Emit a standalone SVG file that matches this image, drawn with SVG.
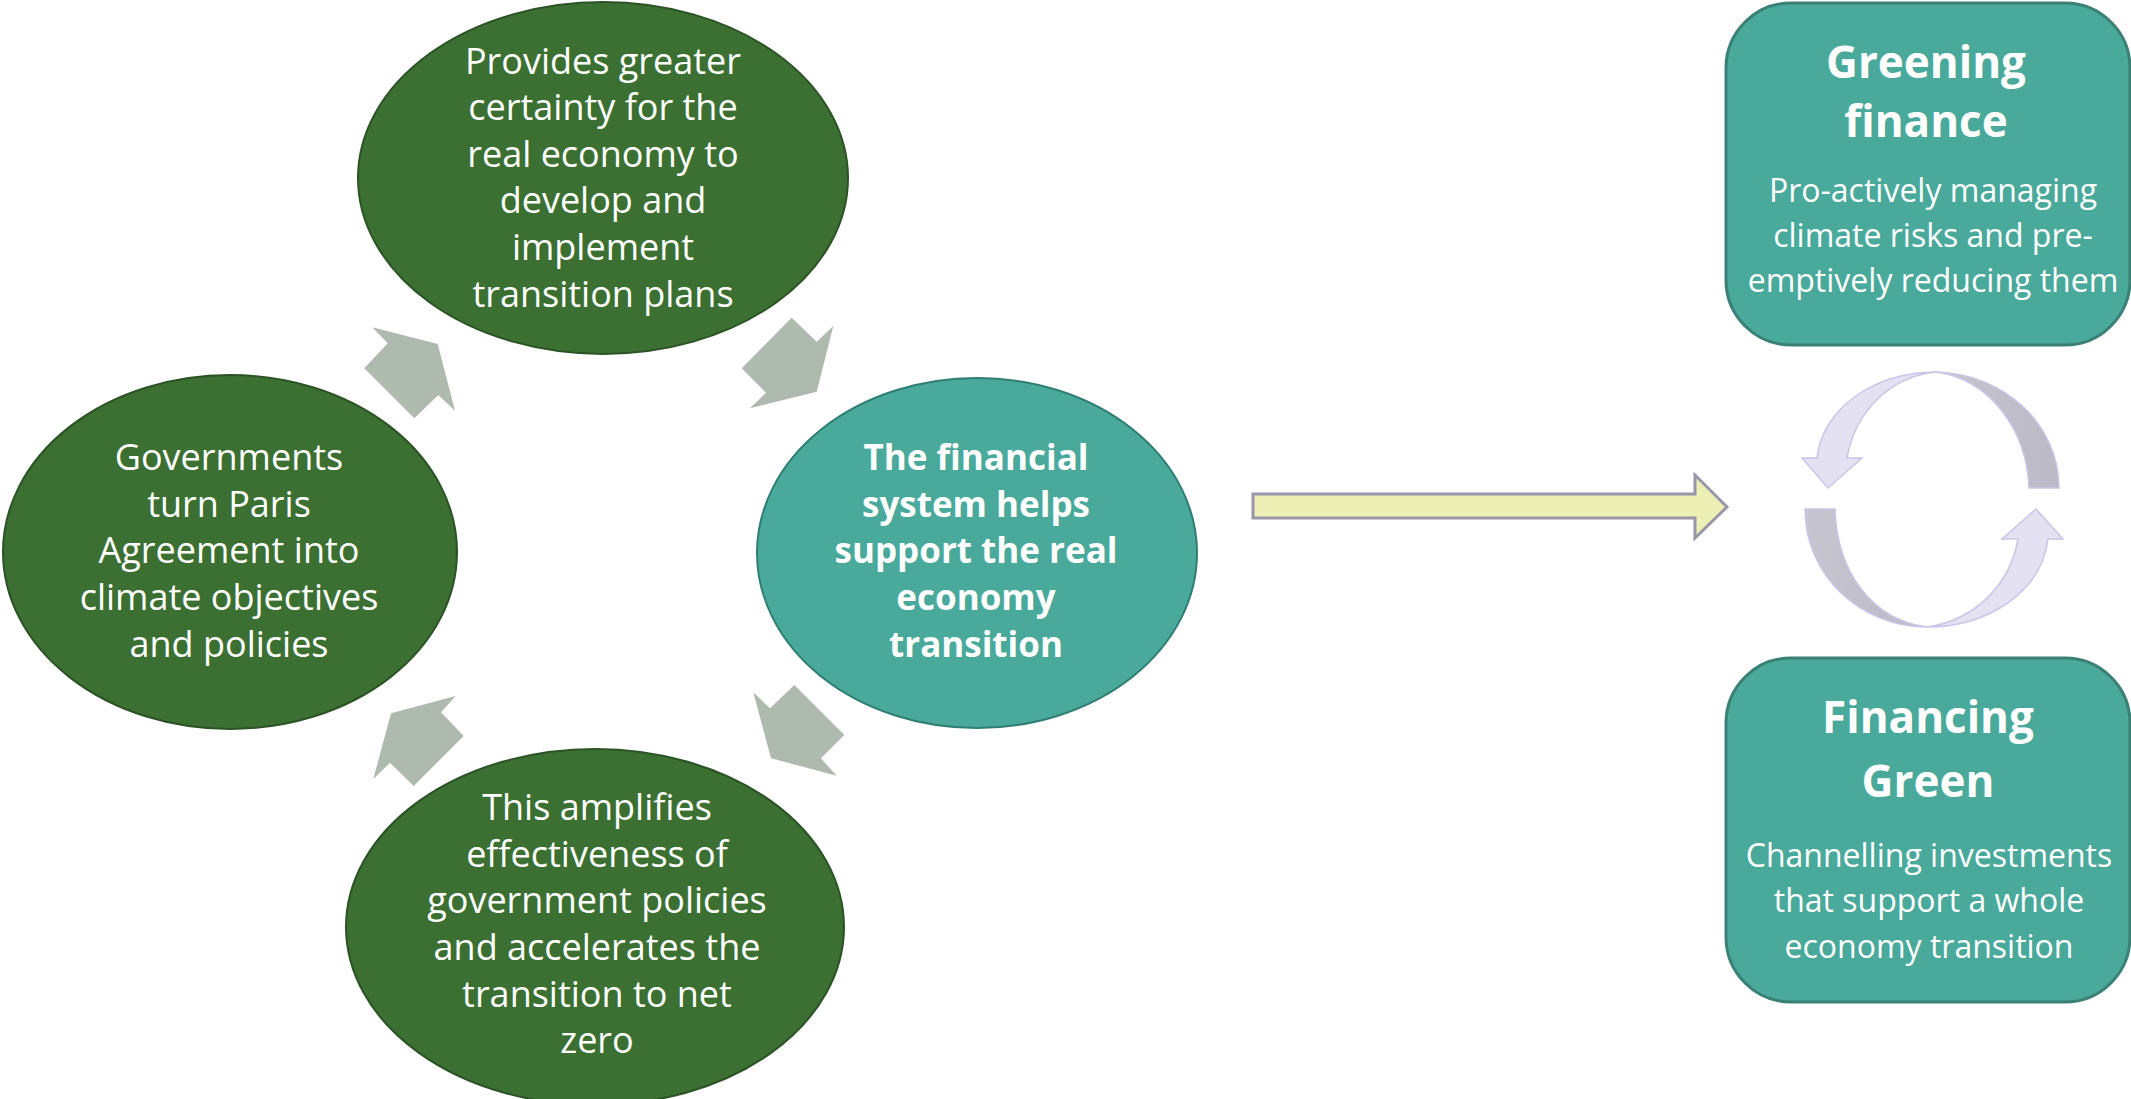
<svg xmlns="http://www.w3.org/2000/svg" width="2131" height="1099" viewBox="0 0 2131 1099">
<style>
.green{fill:#3B7032;stroke:#2B5325;stroke-width:2}
.teal{fill:#49A99B;stroke:#2F7E73;stroke-width:2}
.box{fill:#49A99B;stroke:#3A8074;stroke-width:3}
.chev{fill:#AEBAAD}
.t{font-family:"Open Sans","Liberation Sans",sans-serif;fill:#FFFFFF;text-anchor:middle}
.n{font-size:36px}
.b{font-size:35px;font-weight:bold}
.h{font-size:44px;font-weight:bold}
.s{font-size:32px}
.lav{fill:#E3E1F2;stroke:#C9C6E6;stroke-width:1.5}
.gray{fill:url(#gg);stroke:#C9C6E6;stroke-width:1.5}
</style>
<defs>
<linearGradient id="gg" x1="0" y1="0" x2="1" y2="0">
<stop offset="0" stop-color="#C6C5D0"/>
<stop offset="1" stop-color="#BAB9C5"/>
</linearGradient>
</defs>
<rect width="2131" height="1099" fill="#FFFFFF"/>

<g id="connectors">
<polygon class="chev" points="372.3,327.3 437.7,344 455,410.7 438.3,395 414.3,418.3 364.3,368.3 387.7,343.3"/>
<polygon class="chev" points="791.7,317.7 816.7,341.7 833.3,326 816.7,391.7 750,408.3 766,392.7 741.7,368.3"/>
<polygon class="chev" points="794.3,685 844.3,735 821,758.3 836.7,775.7 771,758.3 753.3,692.3 770,708.3"/>
<polygon class="chev" points="455.7,696 441,712.3 463.7,736 413.7,786 390,762.7 373.3,779 391,713.3"/>
<polygon points="1253,494 1695,494 1695,475 1727,507 1695,538 1695,518 1253,518" fill="#EDF0B5" stroke="#9896A8" stroke-width="3"/>
<g id="cycle">
<path class="gray" d="M1937,372 C2005,374 2059,425 2059,488 L2029,488 C2027,430 1990,380 1937,372 Z"/>
<path class="gray" d="M1805,509 L1835,509 C1837,572 1872,620 1927,627 C1860,627 1805,575 1805,509 Z"/>
<path class="lav" d="M1937,372 C1872,372 1822,410 1817,458 L1802,458 L1828,488 L1862,458 L1847,458 C1855,412 1890,376 1937,372 Z"/>
<path class="lav" d="M1927,627 C1990,627 2042,590 2048,539 L2063,539 L2036,509 L2002,539 L2018,539 C2010,585 1975,620 1927,627 Z"/>
</g>
</g>

<g id="node-top">
<ellipse class="green" cx="603" cy="178" rx="245" ry="176"/>
<text class="t n" x="603" y="74">Provides greater</text>
<text class="t n" x="603" y="120">certainty for the</text>
<text class="t n" x="603" y="167">real economy to</text>
<text class="t n" x="603" y="213">develop and</text>
<text class="t n" x="603" y="260">implement</text>
<text class="t n" x="603" y="307">transition plans</text>
</g>

<g id="node-left">
<ellipse class="green" cx="230" cy="552" rx="227" ry="177"/>
<text class="t n" x="229" y="470">Governments</text>
<text class="t n" x="229" y="517">turn Paris</text>
<text class="t n" x="229" y="563">Agreement into</text>
<text class="t n" x="229" y="610">climate objectives</text>
<text class="t n" x="229" y="657">and policies</text>
</g>

<g id="node-right">
<ellipse class="teal" cx="977" cy="553" rx="220" ry="175"/>
<text class="t b" x="976" y="470">The financial</text>
<text class="t b" x="976" y="517">system helps</text>
<text class="t b" x="976" y="563">support the real</text>
<text class="t b" x="976" y="610">economy</text>
<text class="t b" x="976" y="657">transition</text>
</g>

<g id="node-bottom">
<ellipse class="green" cx="595" cy="927" rx="249" ry="178"/>
<text class="t n" x="597" y="820">This amplifies</text>
<text class="t n" x="597" y="867">effectiveness of</text>
<text class="t n" x="597" y="913">government policies</text>
<text class="t n" x="597" y="960">and accelerates the</text>
<text class="t n" x="597" y="1007">transition to net</text>
<text class="t n" x="597" y="1053">zero</text>
</g>

<g id="node-greening">
<rect class="box" x="1726" y="3" width="404" height="342" rx="65"/>
<text class="t h" x="1926" y="78">Greening</text>
<text class="t h" x="1926" y="137">finance</text>
<text class="t s" x="1933" y="202">Pro-actively managing</text>
<text class="t s" x="1933" y="247">climate risks and pre-</text>
<text class="t s" x="1933" y="292">emptively reducing them</text>
</g>

<g id="node-financing">
<rect class="box" x="1726" y="658" width="404" height="344" rx="65"/>
<text class="t h" x="1928" y="733">Financing</text>
<text class="t h" x="1928" y="797">Green</text>
<text class="t s" x="1929" y="867">Channelling investments</text>
<text class="t s" x="1929" y="912">that support a whole</text>
<text class="t s" x="1929" y="958">economy transition</text>
</g>
</svg>
